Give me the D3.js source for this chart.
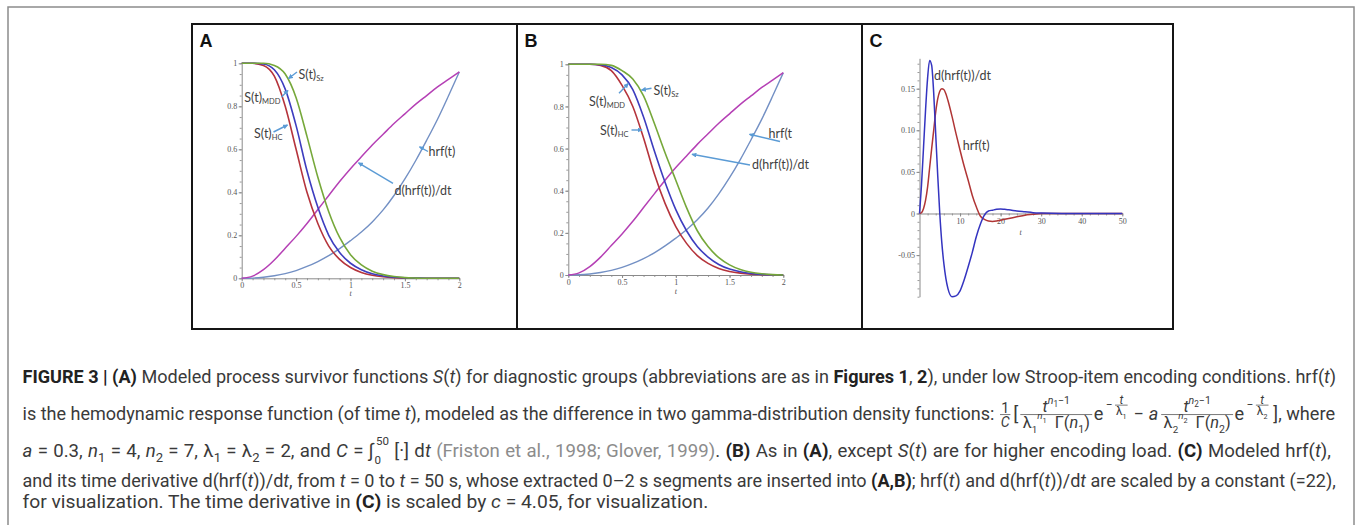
<!DOCTYPE html>
<html><head><meta charset="utf-8">
<script src="https://cdn.jsdelivr.net/npm/d3@7"></script>
<style>
html,body{margin:0;padding:0;background:#fff;}
svg{display:block;}
text{white-space:pre;}
</style></head><body>
<svg id="fig" width="1357" height="525"></svg>
<script>
// ---------------- DATA ----------------
const tAB    = [0,0.1,0.2,0.3,0.4,0.5,0.6,0.7,0.8,0.9,1.0,1.1,1.2,1.3,1.4,1.5,1.6,1.7,1.8,1.9,2.0];
const sA_HC  = [1,1,0.99,0.94,0.80,0.60,0.40,0.255,0.15,0.088,0.05,0.027,0.014,0.007,0.003,0.001,0,0,0,0,0];
const sA_MDD = [1,1,0.997,0.97,0.88,0.71,0.50,0.33,0.2,0.12,0.07,0.04,0.021,0.011,0.005,0.002,0.001,0,0,0,0];
const sA_Sz  = [1,1,1,0.99,0.95,0.84,0.66,0.47,0.31,0.19,0.11,0.062,0.033,0.017,0.008,0.003,0.001,0,0,0,0];
const sB_HC  = [1,1,1,0.995,0.97,0.9,0.8,0.65,0.48,0.34,0.23,0.15,0.092,0.055,0.031,0.017,0.009,0.004,0.002,0.001,0];
const sB_MDD = [1,1,1,0.998,0.985,0.95,0.88,0.75,0.59,0.44,0.31,0.21,0.135,0.085,0.05,0.028,0.015,0.007,0.003,0.001,0];
const sB_Sz  = [1,1,1,1,0.995,0.97,0.93,0.85,0.72,0.58,0.45,0.32,0.21,0.135,0.082,0.048,0.026,0.013,0.006,0.002,0];
const dhrfAB = [0,0.01,0.04,0.085,0.14,0.195,0.255,0.32,0.385,0.45,0.51,0.565,0.62,0.67,0.72,0.765,0.81,0.85,0.89,0.925,0.96];
const hrfAB  = [0,0.001,0.005,0.012,0.022,0.036,0.055,0.078,0.105,0.138,0.175,0.215,0.262,0.318,0.385,0.462,0.548,0.642,0.74,0.848,0.96];

const tC    = [0,0.5,1,1.5,2,2.5,3,3.5,4,4.5,5,5.5,6,6.5,7,8,9,10,11,12,13,14,15,16,17,18,19,20,21,22,24,26,28,30,35,40,45,50];
const hrfC  = [0,0.001,0.006,0.016,0.032,0.055,0.078,0.1,0.122,0.138,0.147,0.15,0.149,0.144,0.136,0.117,0.096,0.076,0.057,0.04,0.022,0.008,-0.003,-0.007,-0.009,-0.0095,-0.009,-0.008,-0.007,-0.006,-0.004,-0.002,-0.001,0,0,0,0,0];
const dhrfC = [0,0.035,0.08,0.125,0.163,0.184,0.178,0.145,0.095,0.045,0,-0.035,-0.06,-0.078,-0.09,-0.1,-0.099,-0.093,-0.08,-0.064,-0.047,-0.028,-0.013,-0.002,0.003,0.004,0.005,0.0055,0.005,0.0045,0.003,0.002,0.001,0.0005,0,0,0,0];

const xTicksAB = [0,0.5,1,1.5,2];
const yTicksAB = [0,0.2,0.4,0.6,0.8,1];
const xTicksC  = [10,20,30,40,50];
const yTicksC  = [-0.05,0,0.05,0.10,0.15];
const panelLetters = ["A","B","C"];

// ---------------- STYLE ----------------
const col = {HC:"#b5343c", MDD:"#3d3dbf", Sz:"#76a83a", dhrf:"#b540b5", hrf:"#7390c4",
             cRed:"#b03535", cBlue:"#3434c0", arrow:"#5b9bd5", lab:"#3f3f3f"};
const svg = d3.select("#fig");

svg.append("defs").append("marker").attr("id","ah").attr("viewBox","0 0 8 8")
  .attr("refX",7).attr("refY",4).attr("markerWidth",5).attr("markerHeight",5)
  .attr("orient","auto").attr("markerUnits","userSpaceOnUse")
  .append("path").attr("d","M0,0L8,4L0,8Z").attr("fill",col.arrow);

svg.append("rect").attr("x",8).attr("y",7).attr("width",1346).attr("height",560)
  .attr("fill","none").attr("stroke","#8c8c8c").attr("stroke-width",1.5);

const frames = [[192,517],[517,862],[862,1173]];
frames.forEach(([a,b],i) => {
  svg.append("rect").attr("x",a).attr("y",24).attr("width",b-a).attr("height",305)
    .attr("fill","none").attr("stroke","#151515").attr("stroke-width",2);
  svg.append("text").attr("x",a+7.5).attr("y",46.5).text(panelLetters[i])
    .style("font-family","Liberation Sans, Arial").style("font-weight","bold")
    .attr("font-size",18).attr("fill","#111");
});

function axes(g, x, y, cfg) {
  const styleAx = s => { s.select(".domain").attr("stroke","#8a8a8a").attr("stroke-width",1);
    s.selectAll(".tick line").attr("stroke","#8a8a8a");
    s.selectAll(".tick text").attr("fill","#555").style("font-family","Liberation Serif, Times New Roman").attr("font-size",8); };
  g.append("g").attr("transform",`translate(0,${y(0)})`)
    .call(d3.axisBottom(x).tickValues(cfg.xMinor).tickSize(2).tickFormat(""))
    .call(s=>{s.select(".domain").remove(); s.selectAll(".tick line").attr("stroke","#9a9a9a");});
  g.append("g").attr("transform",`translate(${x(0)},0)`)
    .call(d3.axisLeft(y).tickValues(cfg.yMinor).tickSize(2).tickFormat(""))
    .call(s=>{s.select(".domain").remove(); s.selectAll(".tick line").attr("stroke","#9a9a9a");});
  g.append("g").attr("transform",`translate(0,${y(0)})`)
    .call(d3.axisBottom(x).tickValues(cfg.xMajor).tickSizeInner(3).tickSizeOuter(0).tickPadding(1.5).tickFormat(cfg.xFmt))
    .call(styleAx);
  g.append("g").attr("transform",`translate(${x(0)},0)`)
    .call(d3.axisLeft(y).tickValues(cfg.yMajor).tickSizeInner(3).tickSizeOuter(0).tickPadding(1.5).tickFormat(cfg.yFmt))
    .call(styleAx);
  g.append("text").attr("x",cfg.tx).attr("y",cfg.ty).text("t")
    .style("font-family","Liberation Serif, Times New Roman").style("font-style","italic")
    .attr("font-size",8).attr("fill","#555").attr("text-anchor","middle");
}

function curve(g, x, y, xs, ys, color, w, dash) {
  const line = d3.line().x((d,i)=>x(xs[i])).y(d=>y(d)).curve(d3.curveMonotoneX);
  const p = g.append("path").attr("d",line(ys)).attr("fill","none").attr("stroke",color)
    .attr("stroke-width",w||1.5).attr("stroke-linejoin","round");
  if (dash) p.attr("stroke-dasharray",dash);
}

function label(x, y, main, sub) {
  const t = svg.append("text").attr("x",x).attr("y",y).attr("fill",col.lab)
    .style("font-family","Lato, Open Sans, sans-serif").attr("font-size",12.5);
  t.append("tspan").text(main);
  if (sub) t.append("tspan").text(sub).attr("font-size",7.5).attr("dy",2);
}
function arrow(x1,y1,x2,y2) {
  svg.append("line").attr("x1",x1).attr("y1",y1).attr("x2",x2).attr("y2",y2)
    .attr("stroke",col.arrow).attr("stroke-width",1.4).attr("marker-end","url(#ah)");
}

const fmtAB_y = d => (d===0||d===1) ? String(d) : d.toFixed(1);
const fmtAB_x = d => String(d);
const minorAB_x = d3.range(0,2.0001,0.1);
const minorAB_y = d3.range(0,1.0001,0.05);

// ---- Panel A ----
{
  const g = svg.append("g");
  const x = d3.scaleLinear().domain([0,2]).range([241.7,459.3]);
  const y = d3.scaleLinear().domain([0,1]).range([278.3,63.3]);
  axes(g,x,y,{xMajor:xTicksAB,yMajor:yTicksAB,xMinor:minorAB_x,yMinor:minorAB_y,xFmt:fmtAB_x,yFmt:fmtAB_y,tx:x(1),ty:296});
  curve(g,x,y,tAB,hrfAB,col.hrf,1.4);
  curve(g,x,y,tAB,dhrfAB,col.dhrf,1.5);
  curve(g,x,y,tAB,sA_HC,col.HC,1.6);
  curve(g,x,y,tAB,sA_MDD,col.MDD,1.6);
  curve(g,x,y,tAB,sA_Sz,col.Sz,1.6);
  label(298.5,79,"S(t)","Sz"); arrow(297,72,288.5,78.5);
  label(244.3,101.5,"S(t)","MDD"); arrow(281.5,97,288,90.5);
  label(254,137.5,"S(t)","HC"); arrow(273.5,132,287.5,125);
  label(428.5,156,"hrf(t)"); arrow(428,151.5,419.5,146.8);
  label(394.5,194.5,"d(hrf(t))/dt"); arrow(393,183.3,358.5,162.8);
}
// ---- Panel B ----
{
  const g = svg.append("g");
  const x = d3.scaleLinear().domain([0,2]).range([568.3,783.3]);
  const y = d3.scaleLinear().domain([0,1]).range([275,64.3]);
  axes(g,x,y,{xMajor:xTicksAB,yMajor:yTicksAB,xMinor:minorAB_x,yMinor:minorAB_y,xFmt:fmtAB_x,yFmt:fmtAB_y,tx:x(1),ty:294});
  curve(g,x,y,tAB,hrfAB,col.hrf,1.4);
  curve(g,x,y,tAB,dhrfAB,col.dhrf,1.5);
  curve(g,x,y,tAB,sB_HC,col.HC,1.6);
  curve(g,x,y,tAB,sB_MDD,col.MDD,1.6);
  curve(g,x,y,tAB,sB_Sz,col.Sz,1.6);
  label(653.5,94.5,"S(t)","Sz"); arrow(651.5,88.3,641.5,90);
  label(589,106,"S(t)","MDD"); arrow(619,93.3,628.3,83.5);
  label(600,134.5,"S(t)","HC"); arrow(631.5,130,642,130);
  label(768.5,138,"hrf(t"); arrow(780,141.5,749.5,134.3);
  label(752,168.5,"d(hrf(t))/dt"); arrow(750,165,692,154.3);
}
// ---- Panel C ----
{
  const g = svg.append("g");
  const x = d3.scaleLinear().domain([0,50]).range([919.5,1122.3]);
  const y = d3.scaleLinear().domain([-0.1,0.1865]).range([296.7,58.3]);
  axes(g,x,y,{xMajor:xTicksC,yMajor:yTicksC,xMinor:d3.range(2,50.001,2),yMinor:d3.range(-0.1,0.18,0.01),
    xFmt:d=>String(d), yFmt:d=> d===0 ? "0" : (d<0?"-":"")+Math.abs(d).toFixed(2), tx:1020.7, ty:234.5});
  curve(g,x,y,tC,hrfC,col.cRed,1.5);
  curve(g,x,y,tC,dhrfC,col.cBlue,1.5);
  label(934,79.5,"d(hrf(t))/dt");
  label(962.7,149.5,"hrf(t)");
}

// ---------------- CAPTION ----------------
const capFont = "Roboto, Liberation Sans, Arial, sans-serif";
const capColor = "#3a3a3a", linkColor = "#8c8c8c";
const capX = 22.5, capR = 1335, line5End = 708, line2TextEnd = 994;
const capBase = [383, 420, 457, 487, 508];
const cap = svg.append("g");

// parts: [text, flags, dx, offsetFactor, sizeFactor]
function rich(sel, x, y, parts, size) {
  const t = sel.append("text").attr("x",x).attr("y",y).attr("font-size",size)
    .attr("fill",capColor).style("font-family",capFont);
  let cur = 0;
  parts.forEach(p => {
    const st = p[1] || "";
    const ts = t.append("tspan").text(p[0]);
    let off = 0, sz = 1;
    if (st.includes("_")) { off = 0.28; sz = 0.7; }
    if (st.includes("^")) { off = -0.4; sz = 0.7; }
    if (p[3] !== undefined) off = p[3];
    if (p[4] !== undefined) sz = p[4];
    if (st.includes("b")) ts.attr("font-weight","bold").attr("fill","#222");
    if (st.includes("i")) ts.attr("font-style","italic");
    if (st.includes("g")) ts.attr("fill",linkColor);
    if (sz !== 1) ts.attr("font-size",size*sz);
    if (off*size !== cur) { ts.attr("dy", off*size - cur); cur = off*size; }
    if (p[2]) ts.attr("dx", p[2]);
  });
  return t;
}
const spaces = parts => parts.reduce((s,p)=>s+(p[0].match(/ /g)||[]).length,0);
function fit(t, parts, target, glyph) {
  const w = t.node().getComputedTextLength();
  const n = spaces(parts);
  const ws = (target - w)/n;
  if (!glyph && ws >= -0.3) { t.attr("word-spacing", ws); return; }
  const x0 = +t.attr("x");
  t.attr("x", 0).attr("transform", `translate(${x0},0) scale(${target/w},1)`);
}

const L1 = [["FIGURE 3 | (A)","b"],[" Modeled process survivor functions "],["S","i"],["("],["t","i"],[")"],
  [" for diagnostic groups (abbreviations are as in "],["Figures 1","b"],[", "],["2","b"],
  ["), under low Stroop-item encoding conditions. hrf("],["t","i"],[")"]];
const L2a = [["is the hemodynamic response function (of time "],["t","i"],
  ["), modeled as the difference in two gamma-distribution density functions:"]];
const L5 = [["for visualization. The time derivative in "],["(C)","b"],[" is scaled by "],["c","i"],[" = 4.05, for visualization."]];
const L4 = [["and its time derivative d(hrf("],["t","i"],["))/d"],["t","i"],[", from "],["t","i"],[" = 0 to "],["t","i"],
  [" = 50 s, whose extracted 0–2 s segments are inserted into "],["(A,B)","b"],["; hrf("],["t","i"],[") and d(hrf("],["t","i"],
  ["))/d"],["t","i"],[" are scaled by a constant (=22),"]];

let fs = 15;
{
  const a = rich(cap, capX, 0, L1, 15), b = rich(cap, capX, 0, L5, 15);
  const r1 = (capR-capX)/a.node().getComputedTextLength(), r5 = (line5End-capX)/b.node().getComputedTextLength();
  fs = 15*Math.sqrt(r1*r5);
  a.remove(); b.remove();
}
const w0 = (() => { const t = cap.append("text").attr("font-size",fs*0.62).style("font-family",capFont).text("0");
  const w = t.node().getComputedTextLength(); t.remove(); return w; })();
const L3 = [["a","i"],[" = 0.3, "],["n","i"],["1","_"],[" = 4, "],["n","i"],["2","_"],[" = 7, λ"],["1","_"],[" = λ"],["2","_"],
  [" = 2, and "],["C","i"],[" = ∫"],["0","",1,0.35,0.62],["50","",-w0+1.5,-0.62,0.62],[" [·] d","",0,0,1],["t","i"],[" "],
  ["(Friston et al., 1998; Glover, 1999)","g"],[". "],["(B)","b"],[" As in "],["(A)","b"],[", except "],["S","i"],["("],["t","i"],
  [") are for higher encoding load. "],["(C)","b"],[" Modeled hrf("],["t","i"],["),"]];

fit(rich(cap, capX, capBase[0], L1, fs), L1, capR-capX);
fit(rich(cap, capX, capBase[2], L3, fs), L3, capR-capX);
fit(rich(cap, capX, capBase[3], L4, fs), L4, capR-capX);
fit(rich(cap, capX, capBase[4], L5, fs), L5, line5End-capX, true);

// line 2 with formula
{
  const t2 = rich(cap, capX, capBase[1], L2a, fs);
  fit(t2, L2a, line2TextEnd - capX);
  const g = cap.append("g");
  let x = 0;
  const barY = -fs*0.3;
  const tw = t => t.node().getComputedTextLength();
  function frac(num, den, size, up, down, by, gap) {
    const tn = rich(g, 0, by - up, num, size), td = rich(g, 0, by + down, den, size);
    const wn = tw(tn), wd = tw(td), W = Math.max(wn, wd) + (gap||2);
    tn.attr("x", x + (W-wn)/2); td.attr("x", x + (W-wd)/2);
    g.append("line").attr("x1",x).attr("x2",x+W).attr("y1",by).attr("y2",by)
      .attr("stroke",capColor).attr("stroke-width",0.7);
    x += W;
  }
  function plain(parts, size, dy) { const t = rich(g, x, dy||0, parts, size); x += tw(t); return t; }
  const s1 = fs*0.78, sN = fs*0.9, sE = fs*0.66;
  frac([["1"]], [["C","i"]], s1, 2, s1*0.85, barY, 1.5);
  x += 3;
  plain([["["]], fs*1.05);
  x += 2;
  const lam = i => [["λ"],[String(i),"",0,0.3,0.6],["n","i",0,-0.55,0.6],[String(i),"",0,-0.35,0.45],["  Γ(","",0,0,1],["n","i"],[String(i),"",0,0.28,0.65],[")","",0,0,1]];
  const tnum = i => [["t","i"],["n","i",0,-0.5,0.65],[String(i),"",0,-0.3,0.5],["−1","",0,-0.5,0.65]];
  frac(tnum(1), lam(1), sN, 2.5, sN*0.85, barY, 5);
  x += 1.5;
  plain([["e"]], fs);
  const expo = i => {
    x += 2.5;
    const m = rich(g, x, -fs*0.6, [["−"]], sE); x += tw(m) + 2.5;
    frac([["t","i"]], [["λ"],[String(i),"",0,0.3,0.6]], sE, 1.5, sE*0.85, -fs*0.82, 2);
  };
  expo(1);
  x += 6;
  plain([["−"]], fs); x += 5;
  plain([["a","i"]], fs); x += 3;
  frac(tnum(2), lam(2), sN, 2.5, sN*0.85, barY, 5);
  x += 1.5;
  plain([["e"]], fs);
  expo(2);
  x += 5;
  plain([["], where"]], fs);
  const Wf = x;
  const fStart = line2TextEnd + 6;
  const k = (capR - fStart)/Wf;
  g.attr("transform", `translate(${fStart},${capBase[1]}) scale(${k},${Math.min(k,1.1)})`);
}
</script>
</body></html>
